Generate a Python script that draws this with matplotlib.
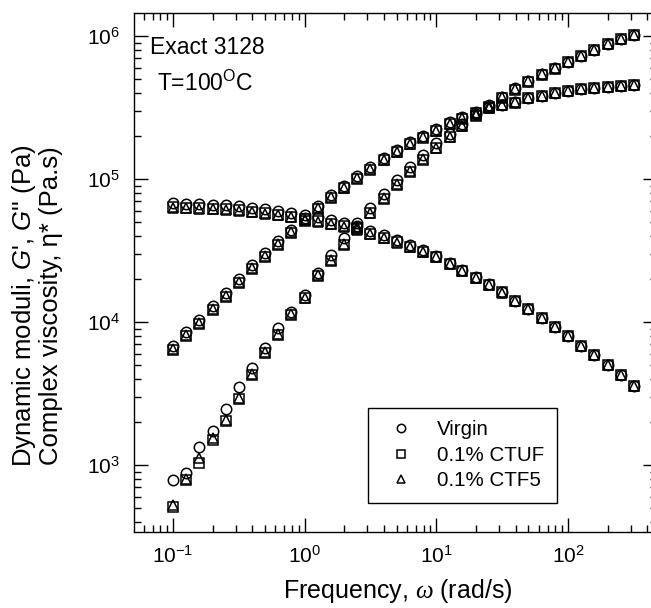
import matplotlib
matplotlib.use('Agg')
import matplotlib.pyplot as plt

plt.rcParams['font.family'] = 'Liberation Sans'
plt.rcParams['mathtext.fontset'] = 'custom'
plt.rcParams['mathtext.rm'] = 'Liberation Sans'
plt.rcParams['mathtext.it'] = 'Liberation Sans:italic'
plt.rcParams['mathtext.cal'] = 'Liberation Serif:italic'
plt.rcParams['axes.unicode_minus'] = False

# frequency (rad/s)
freq = [0.1, 0.126, 0.158, 0.2, 0.251, 0.316, 0.398, 0.501, 0.631, 0.794,
        1.0, 1.26, 1.58, 2.0, 2.51, 3.16, 3.98, 5.01, 6.31, 7.94,
        10.0, 12.6, 15.8, 20.0, 25.1, 31.6, 39.8, 50.1, 63.1, 79.4,
        100, 126, 158, 200, 251, 316]

# storage modulus G' (Pa)
gp_virgin = [785, 880, 1340, 1730, 2460, 3510, 4760, 6580, 9080, 11800,
             15500, 21900, 29400, 38400, 49000, 62400, 79000, 99000, 122000, 148000,
             178000, 207000, 243000, 283000, 327000, 377000, 430000, 488000, 546000, 602000,
             663000, 730000, 805000, 885000, 960000, 1025000]
gp_ctuf = [510, 780, 1030, 1500, 2020, 2900, 4260, 6070, 8110, 11200,
           14700, 21000, 26600, 34800, 45600, 57500, 72500, 91000, 112000, 137000,
           165000, 196000, 234000, 276000, 320000, 370000, 422000, 480000, 538000, 593000,
           655000, 720000, 795000, 875000, 948000, 1010000]
gp_ctf5 = [525, 795, 1120, 1550, 2070, 2960, 4330, 6150, 8250, 11300,
           14800, 21200, 27000, 35300, 46000, 58000, 73200, 92000, 113000, 138000,
           166000, 198000, 236000, 279000, 323000, 373000, 426000, 484000, 542000, 597000,
           658000, 725000, 798000, 879000, 953000, 1016000]

# loss modulus G'' (Pa)
gpp_virgin = [6800, 8500, 10300, 12900, 15900, 19900, 24900, 30200, 36600, 44300,
              53800, 65200, 77800, 90000, 105000, 121500, 140500, 160000, 182000, 200000,
              223000, 249000, 270000, 293000, 317000, 332000, 348000, 371000, 383000, 402000,
              415000, 429000, 436000, 443000, 450000, 457000]
gpp_ctuf = [6400, 8000, 9750, 12200, 15000, 18800, 23600, 28600, 34700, 42000,
            51000, 62000, 74200, 86000, 100500, 116500, 135500, 154500, 176000, 194500,
            217500, 243500, 265000, 288000, 312000, 327000, 343000, 366000, 378000, 397000,
            410000, 424000, 431000, 438000, 445000, 452000]
gpp_ctf5 = [6450, 8100, 9850, 12300, 15150, 19000, 23800, 28900, 35000, 42400,
            51500, 62500, 74800, 86800, 101500, 117500, 136500, 155500, 177000, 195500,
            218500, 244500, 266000, 289000, 313000, 328000, 344000, 367000, 379000, 398000,
            411000, 425000, 432000, 439000, 446000, 453000]

# complex viscosity eta* (Pa.s)
eta_virgin = [67800, 67400, 66800, 66200, 65400, 64400, 63200, 61600, 60000, 58200,
              55800, 54000, 51700, 49300, 47000, 43500, 40600, 37500, 34600, 31900,
              29100, 26000, 23200, 20700, 18500, 16300, 14100, 12400, 10750, 9280,
              8020, 6830, 5910, 5030, 4280, 3580]
eta_ctuf = [63500, 63100, 62600, 62000, 61300, 60300, 59200, 57700, 56200, 54600,
            52400, 50800, 48800, 46600, 44600, 41500, 38900, 36100, 33500, 31000,
            28400, 25500, 22800, 20400, 18300, 16100, 14000, 12300, 10650, 9200,
            7960, 6780, 5870, 5000, 4250, 3560]
eta_ctf5 = [63000, 62700, 62200, 61600, 60900, 59900, 58800, 57300, 55800, 54200,
            52000, 50400, 48400, 46300, 44300, 41300, 38700, 35900, 33400, 30900,
            28300, 25400, 22700, 20300, 18200, 16050, 13950, 12250, 10600, 9170,
            7940, 6770, 5860, 4990, 4240, 3550]

labels = ['Virgin', '0.1% CTUF', '0.1% CTF5']
markers = ['o', 's', '^']
sizes = [7.5, 6.8, 7.5]

fig = plt.figure(figsize=(6.51, 6.08), dpi=100)
ax = fig.add_axes([134 / 651, 76 / 608, 523 / 651, 519 / 608])

groups = [(gp_virgin, gpp_virgin, eta_virgin),
          (gp_ctuf, gpp_ctuf, eta_ctuf),
          (gp_ctf5, gpp_ctf5, eta_ctf5)]

for (gp, gpp, eta), lab, m, ms in zip(groups, labels, markers, sizes):
    for k, y in enumerate([gp, gpp, eta]):
        ax.plot(freq, y, linestyle='none', marker=m, markersize=ms,
                markerfacecolor='none', markeredgecolor='black', markeredgewidth=1.1,
                label=lab if k == 0 else None)

ax.set_xscale('log')
ax.set_yscale('log')
ax.set_xlim(0.0506, 474)
ax.set_ylim(340, 1.45e6)

ax.tick_params(which='both', direction='in', top=True, right=True, width=1.0,
               labelsize=15, color='black')
ax.tick_params(which='major', length=10)
ax.tick_params(which='minor', length=5)
ax.tick_params(axis='y', which='major', pad=10)
ax.tick_params(axis='x', which='major', pad=9)
for s in ax.spines.values():
    s.set_linewidth(1.0)

ax.set_xlabel(r'Frequency, $\mathcal{\omega}$ (rad/s)', fontsize=18)
ax.xaxis.set_label_coords(0.504, -0.086)
ax.set_ylabel("Dynamic moduli, $\\mathit{G}$', $\\mathit{G}$'' (Pa)\nComplex viscosity, \u03b7* (Pa.s)",
              fontsize=18.5, linespacing=1.05)
ax.yaxis.set_label_coords(-0.135, 0.437)

ax.text(0.031, 0.921, 'Exact 3128', transform=ax.transAxes, fontsize=16.5, va='baseline')
ax.text(0.044, 0.850, r'T=100$^{\mathrm{O}}$C', transform=ax.transAxes, fontsize=16.5, va='baseline')

leg = ax.legend(loc='upper left', bbox_to_anchor=(0.447, 0.239), fontsize=14.8,
                frameon=True, fancybox=False, edgecolor='black', framealpha=1,
                borderpad=0.6, handlelength=2.0, handletextpad=0.78,
                labelspacing=0.32, borderaxespad=0, markerscale=0.8)
leg.get_frame().set_linewidth(1.0)

fig.savefig('out.png', dpi=100)
